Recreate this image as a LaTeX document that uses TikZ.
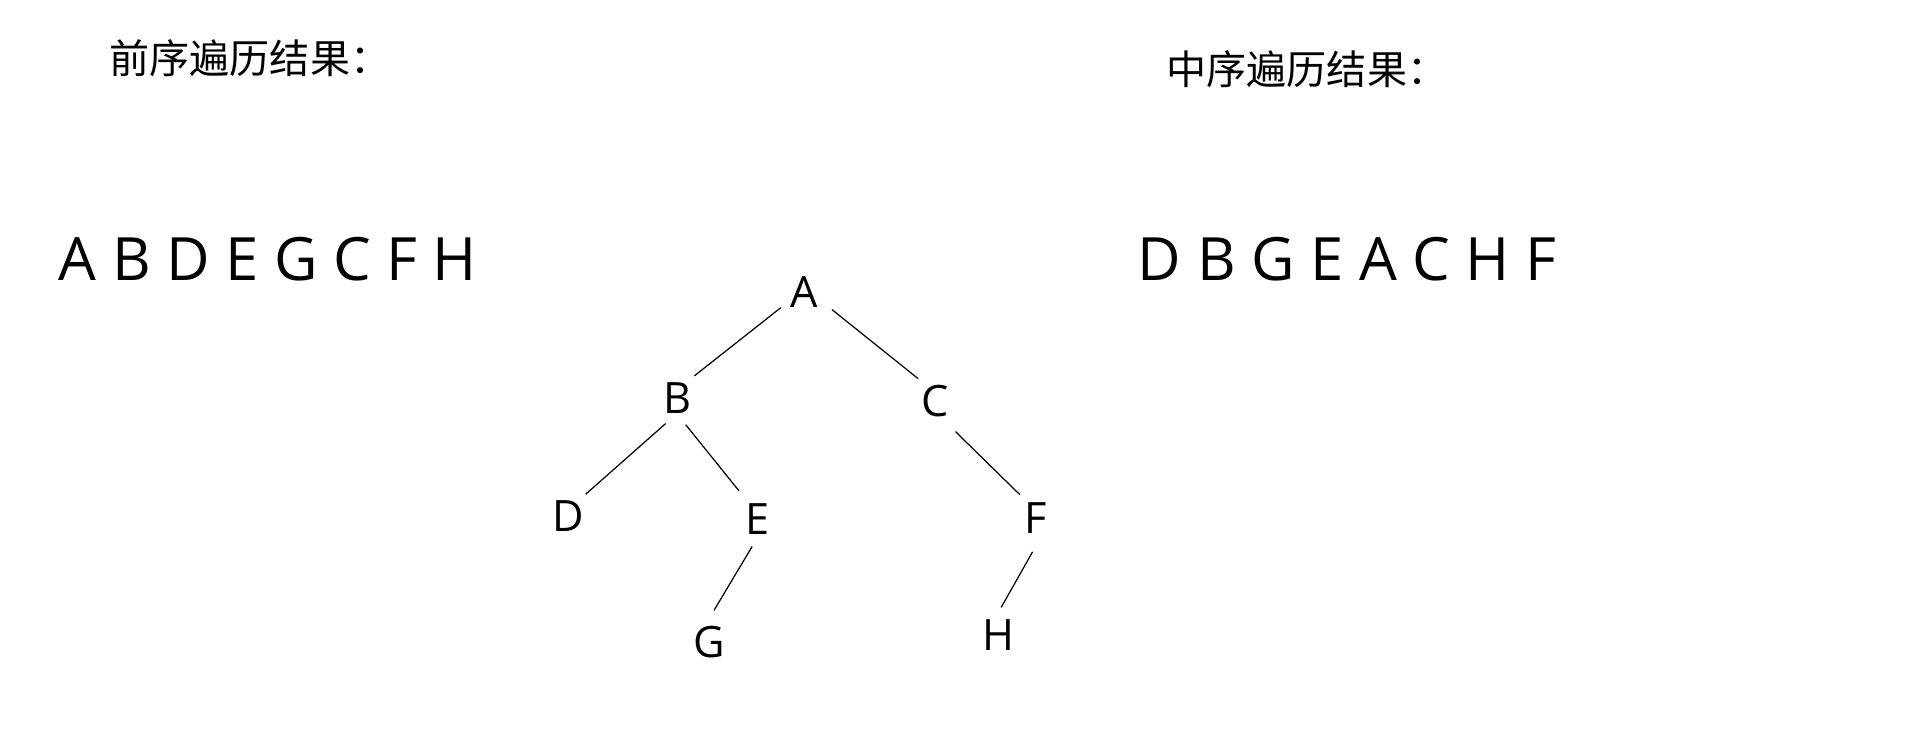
\documentclass[tikz,border=0pt]{standalone}
\usepackage{fontspec}
\setmainfont{Open Sans}
\newfontfamily\cjk{Noto Sans CJK SC}
\usetikzlibrary{positioning}
\tikzset{
  title/.style={anchor=west,inner sep=0pt,font=\cjk\fontsize{11.4pt}{13pt}\selectfont},
  seq/.style={inner sep=0pt,font=\fontsize{17pt}{20pt}\selectfont},
  letter/.style={circle,minimum size=0.56cm,inner sep=0pt,outer sep=0pt,
    font=\fontsize{12.3pt}{14pt}\selectfont},
  branch/.style={line width=0.35pt,black}
}

\begin{document}
\begin{tikzpicture}
  \useasboundingbox (0,0) rectangle (19.12,-7.55);

  % traversal results
  \node[title] (pretitle) at (1.09,-0.578) {前序遍历结果：};
  \node[seq] (preseq) at (2.68,-2.587) {A B D E G C F H};
  \node[title] (intitle) at (11.66,-0.69) {中序遍历结果：};
  \node[seq] (inseq) at (13.47,-2.595) {D B G E A C H F};

  % the tree
  \node[letter] (A) at (8.04,-2.92) {A};
  \node[letter] (B) at (6.77,-3.98) {B};
  \node[letter] (C) at (9.35,-4.01) {C};
  \node[letter] (D) at (5.68,-5.16) {D};
  \node[letter] (E) at (7.58,-5.19) {E};
  \node[letter] (F) at (10.36,-5.177) {F};
  \node[letter] (G) at (7.09,-6.425) {G};
  \node[letter] (H) at (9.987,-6.353) {H};

  \draw[branch] (A.214) -- (B.52);
  \draw[branch,shorten <=0.05cm] (A.329) -- (C.127);
  \draw[branch] (B.246) -- (D.51);
  \draw[branch,shorten >=0.06cm] (B.288) -- (E.123);
  \draw[branch,shorten <=0.09cm] (C.300) -- (F.125);
  \draw[branch,shorten >=0.05cm] (E.258) -- (G.85);
  \draw[branch,shorten <=0.07cm] (F.270) -- (H.85);
\end{tikzpicture}
\end{document}
